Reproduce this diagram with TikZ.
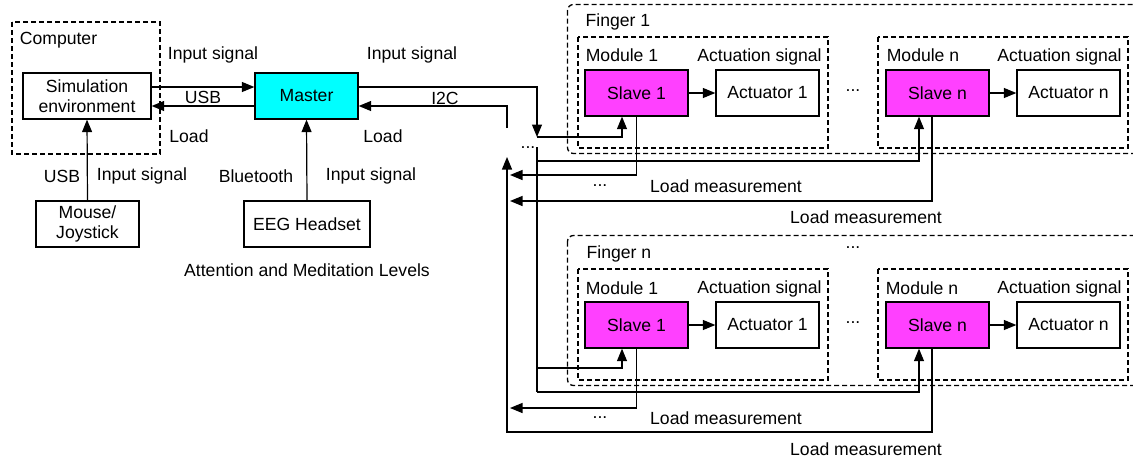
\documentclass[tikz,border=0pt]{standalone}
\usepackage{fontspec}
\setmainfont{Liberation Sans}
\usetikzlibrary{arrows.meta}
\definecolor{mastercol}{RGB}{0,255,255}
\definecolor{slavecol}{RGB}{255,64,255}
\begin{document}
\begin{tikzpicture}[x=1pt,y=-1pt,
  every node/.style={font=\fontsize{17.6}{20.5}\selectfont},
  lbl/.style={inner sep=0pt},
  blk/.style={draw, line width=1.3pt, inner sep=0pt, minimum width=103pt, minimum height=46pt, align=center},
  slv/.style={blk, fill=slavecol},
  grp/.style={draw, dash pattern=on 5pt off 3pt, line width=1.3pt},
  wire/.style={line width=1.2pt},
  arr/.style={wire, -{Triangle[length=12.5pt,width=10pt]}},
]
\useasboundingbox (0,0) rectangle (1133,461);
\clip (0,0) rectangle (1133,461);

% groups
\draw[grp] (12,22) rectangle (160,154);
\draw[grp, rounded corners=6pt] (567.5,4.5) rectangle (1160,153.5);
\draw[grp] (578,37) rectangle (828,148);
\draw[grp] (878,37) rectangle (1128,148);
\draw[grp, rounded corners=6pt] (567.5,235.5) rectangle (1160,385.5);
\draw[grp] (578,269) rectangle (828,380);
\draw[grp] (878,269) rectangle (1128,380);

% blocks
\node[blk, minimum width=128pt] (sim) at (87,96) {Simulation\\environment};
\node[blk, fill=mastercol] (master) at (306.5,96) {Master};
\node[blk] (mouse) at (87.5,224) {Mouse/\\Joystick};
\node[blk, minimum width=126pt] (eeg) at (307,224) {EEG Headset};

\node[slv] (s11) at (636.5,93) {Slave 1};
\node[blk] (a11) at (767.5,93) {Actuator 1};
\node[slv] (s1n) at (937.5,93) {Slave n};
\node[blk] (a1n) at (1068.5,93) {Actuator n};

\node[slv] (sn1) at (636.5,325) {Slave 1};
\node[blk] (an1) at (767.5,325) {Actuator 1};
\node[slv] (snn) at (937.5,325) {Slave n};
\node[blk] (ann) at (1068.5,325) {Actuator n};

% labels
\node[lbl] (lcomp) at (58.5,40) {Computer};
\node[lbl] (lin1) at (213,55) {Input signal};
\node[lbl] (lusb1) at (203,97) {USB};
\node[lbl] (lload1) at (189,136) {Load};
\node[lbl] (lin2) at (412,55) {Input signal};
\node[lbl] (li2c) at (445,98) {I2C};
\node[lbl] (lload2) at (383,136) {Load};
\node[lbl] (lusb2) at (62,176) {USB};
\node[lbl] (lin3) at (142,176) {Input signal};
\node[lbl] (lbt) at (256,176) {Bluetooth};
\node[lbl] (lin4) at (371,176) {Input signal};
\node[lbl] (latt) at (307,270) {Attention and Meditation Levels};

\node[lbl] (lf1) at (618,22) {Finger 1};
\node[lbl] (lm11) at (622,55) {Module 1};
\node[lbl] (lact11) at (759.5,57) {Actuation signal};
\node[lbl] (lm1n) at (923,55) {Module n};
\node[lbl] (lact1n) at (1059.5,57) {Actuation signal};
\node[lbl] (ldot1) at (853,91) {...};

\node[lbl] (ldotb) at (853,248) {...};
\node[lbl] (lfn) at (619,254) {Finger n};
\node[lbl] (lmn1) at (622,288) {Module 1};
\node[lbl] (lactn1) at (759.5,289) {Actuation signal};
\node[lbl] (lmnn) at (922,288) {Module n};
\node[lbl] (lactnn) at (1059.5,289) {Actuation signal};
\node[lbl] (ldot2) at (853,323) {...};

\node[lbl] (ldot3) at (528,148) {...};
\node[lbl] (ldot4) at (600,186) {...};
\node[lbl] (llm1) at (726,186) {Load measurement};
\node[lbl] (llm2) at (866,217) {Load measurement};
\node[lbl] (ldot5) at (600,418) {...};
\node[lbl] (llm3) at (726,418) {Load measurement};
\node[lbl] (llm4) at (866,449) {Load measurement};

% coordinates
\coordinate (j1) at (537,137);
\coordinate (rb0) at (537,147);
\coordinate (rb1) at (537,161);
\coordinate (rb2) at (537,368);
\coordinate (rb3) at (537,392);
\coordinate (lb0) at (507,157);
\coordinate (lb1) at (507,432);
\coordinate (lr) at (507,128);
\coordinate (t1) at (510,175);
\coordinate (t2) at (510,201);
\coordinate (t3) at (510,408);

% left side connectors
\draw[arr] ([yshift=9pt]sim.east) -- ([yshift=9pt]master.west);
\draw[arr] ([yshift=-10pt]master.west) -- ([yshift=-10pt]sim.east);
\draw[arr] (mouse.north) -- (sim.south);
\draw[arr] (eeg.north) -- (master.south);

% master to slaves
\draw[arr] ([yshift=9pt]master.east) -| (j1);
\draw[arr] (j1) -| ([xshift=-14.5pt]s11.south);
\draw[wire] (rb0) -- (rb3);
\draw[arr] (rb1) -| ([xshift=-18.5pt]s1n.south);
\draw[arr] (rb2) -| ([xshift=-14.5pt]sn1.south);
\draw[arr] (rb3) -| ([xshift=-18.5pt]snn.south);

% slave to actuator
\draw[arr] (s11) -- (a11);
\draw[arr] (s1n) -- (a1n);
\draw[arr] (sn1) -- (an1);
\draw[arr] (snn) -- (ann);

% load returns
\draw[arr] (s11.south) |- (t1);
\draw[arr] ([xshift=-5.5pt]s1n.south) |- (t2);
\draw[arr] (sn1.south) |- (t3);
\draw[arr] ([xshift=-5.5pt]snn.south) |- (lb1) -- (lb0);
\draw[arr] (lr) |- ([yshift=-10pt]master.east);
\end{tikzpicture}
\end{document}
